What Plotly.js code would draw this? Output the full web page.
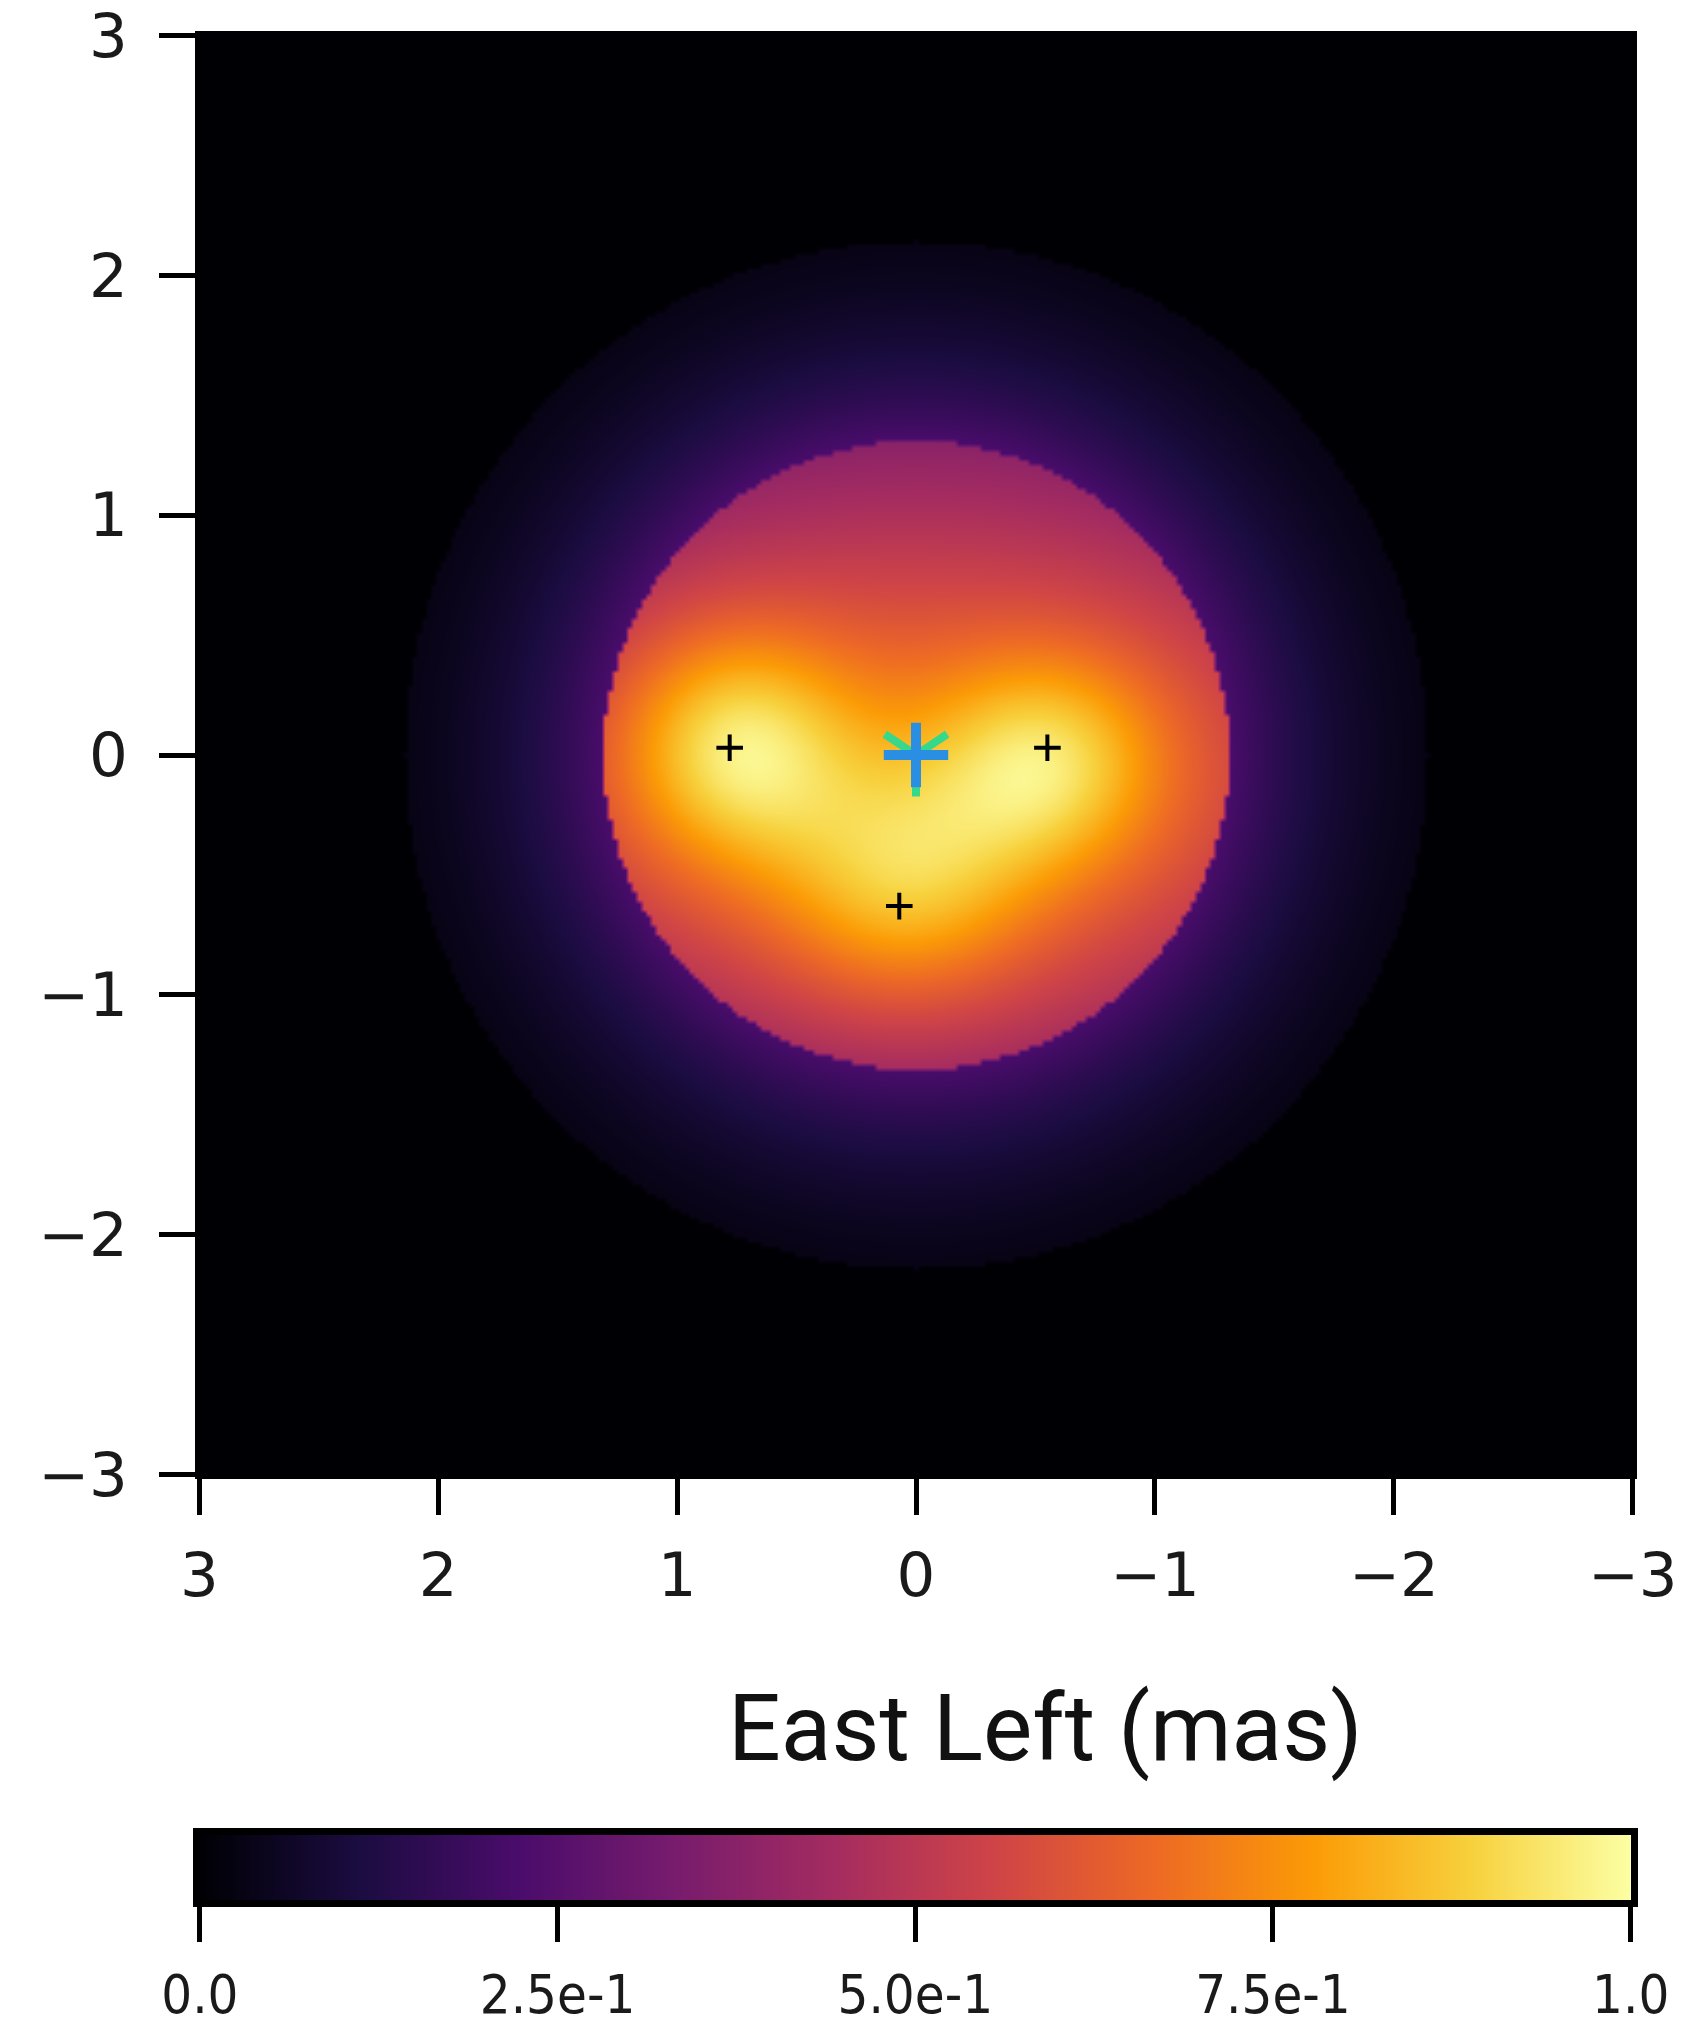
<!DOCTYPE html>
<html>
<head>
<meta charset="utf-8">
<script src="https://cdn.plot.ly/plotly-3.0.1.min.js"></script>
<style>
  html, body { margin: 0; padding: 0; background: #ffffff; }
  #chart { width: 1687px; height: 2034px; }
</style>
</head>
<body>
<div id="chart"></div>
<script>
// ---- axis and colour-bar ticks ----
const axisTicks = [-3, -2, -1, 0, 1, 2, 3];
const axisTickText = ['\u22123', '\u22122', '\u22121', '0', '1', '2', '3'];
const cbarTicks = [0, 0.25, 0.5, 0.75, 1.0];
const cbarTickText = ['0.0', '2.5e-1', '5.0e-1', '7.5e-1', '1.0'];

// ---- fitted component positions (mas) ----
const crossX = [0.78, -0.55, 0.07];
const crossY = [0.03, 0.03, -0.63];
const centreX = [0.0];
const centreY = [0.0];

// ---- stellar disk (uniform disk with linear limb darkening) ----
const diskRadius = 1.31;
const diskCentre = 0.26;
const limbDarkening = 0.10;

// ---- circumstellar envelope (truncated Gaussian) ----
const envelopeRadius = 2.14;
const envelopePeak = 0.73;
const envelopeSigma = 0.85;

// ---- surface brightness features on the disk (elliptical Gaussians) ----
const featX   = [0.75, -0.55,  0.05,  0.00];
const featY   = [0.03, -0.03, -0.52, -0.10];
const featSx  = [0.33,  0.33,  0.38,  1.80];
const featSy  = [0.33,  0.31,  0.36,  0.95];
const featAmp = [0.32,  0.28,  0.25,  0.42];

// ---- inferno colour map ----
const infernoColors = ['#000004', '#1b0c41', '#4a0c6b', '#781c6d', '#a52c60',
                       '#cf4446', '#ed6925', '#fb9b06', '#f7d13d', '#fcffa4'];

// image grid (mas)
const gridStep = 0.02;
const gridN = 301;
const grid = [];
for (let i = 0; i < gridN; i++) grid.push(+(-3 + i * gridStep).toFixed(3));

function brightness(x, y) {
  const r = Math.hypot(x, y);
  if (r > envelopeRadius) return 0;
  if (r > diskRadius) {
    return envelopePeak * Math.exp(-(r * r) / (2 * envelopeSigma * envelopeSigma));
  }
  const mu = Math.sqrt(1 - (r / diskRadius) ** 2);
  let v = diskCentre * (1 - limbDarkening * (1 - mu));
  for (let k = 0; k < featX.length; k++) {
    const dx = x - featX[k], dy = y - featY[k];
    v += featAmp[k] * Math.exp(-(dx * dx) / (2 * featSx[k] ** 2) - (dy * dy) / (2 * featSy[k] ** 2));
  }
  return Math.max(0, Math.min(v, 1));
}

const z = grid.map(y => grid.map(x => brightness(x, y)));
const colorscale = infernoColors.map((c, i) => [i / (infernoColors.length - 1), c]);

// colour-bar strip samples
const cbarSamples = [];
for (let i = 0; i <= 100; i++) cbarSamples.push(i / 100);

const tickFont = { family: 'DejaVu Sans', size: 61, color: '#1a1a1a' };
const cbarFont = { family: "'DejaVu Sans Condensed', 'DejaVu Sans'", size: 54, color: '#1a1a1a' };

const traces = [
  {
    type: 'heatmap', x: grid, y: grid, z: z,
    zmin: 0, zmax: 1, zsmooth: 'best', colorscale: colorscale,
    showscale: false, hoverinfo: 'skip'
  },
  {
    type: 'scatter', mode: 'markers', x: crossX, y: crossY, hoverinfo: 'skip',
    marker: { symbol: 'cross-thin', size: 19, color: '#000000', line: { width: 4, color: '#000000' } }
  },
  {
    type: 'scatter', mode: 'markers', x: centreX, y: centreY, hoverinfo: 'skip',
    marker: { symbol: 'y-down', size: 52, color: '#36d98b', line: { width: 8, color: '#36d98b' } }
  },
  {
    type: 'scatter', mode: 'markers', x: centreX, y: centreY, hoverinfo: 'skip',
    marker: { symbol: 'cross-thin', size: 46, color: '#2a8fe3', line: { width: 10, color: '#2a8fe3' } }
  },
  {
    // colour bar drawn as a strip of the colour scale
    type: 'heatmap', x: cbarSamples, y: [0, 1], z: [cbarSamples, cbarSamples],
    xaxis: 'x2', yaxis: 'y2',
    zmin: 0, zmax: 1, zsmooth: 'best', colorscale: colorscale,
    showscale: false, hoverinfo: 'skip'
  }
];

const axisCommon = {
  tickmode: 'array', tickvals: axisTicks, ticktext: axisTickText,
  ticks: 'outside', ticklen: 36, tickwidth: 5, tickcolor: '#000000',
  showgrid: false, zeroline: false,
  showline: true, mirror: true, linecolor: '#000000', linewidth: 2,
  tickfont: tickFont, ticklabeloverflow: 'allow', fixedrange: true
};

const layout = {
  width: 1687, height: 2034,
  margin: { l: 197, r: 52, t: 33, b: 127, pad: 0 },
  paper_bgcolor: '#ffffff', plot_bgcolor: '#ffffff',
  showlegend: false,
  xaxis: Object.assign({}, axisCommon, {
    range: [3.01, -3.01], autorange: false, anchor: 'y', domain: [0, 1],
    ticklabelstandoff: 8
  }),
  yaxis: Object.assign({}, axisCommon, {
    range: [-3.01, 3.01], autorange: false, anchor: 'x',
    domain: [(1907 - 1477) / 1874, 1],
    ticklabelstandoff: 19
  }),
  xaxis2: {
    anchor: 'y2', domain: [0.002, 0.997], range: [0, 1], autorange: false,
    tickmode: 'array', tickvals: cbarTicks, ticktext: cbarTickText,
    ticks: 'outside', ticklen: 35, tickwidth: 5, tickcolor: '#000000',
    showline: true, mirror: true, linecolor: '#000000', linewidth: 7,
    showgrid: false, zeroline: false, tickfont: cbarFont,
    ticklabelstandoff: 6, ticklabeloverflow: 'allow', fixedrange: true
  },
  yaxis2: {
    anchor: 'x2', domain: [(1907 - 1900) / 1874, (1907 - 1835) / 1874],
    range: [0, 1], autorange: false,
    showticklabels: false, ticks: '',
    showline: true, mirror: true, linecolor: '#000000', linewidth: 7,
    showgrid: false, zeroline: false, fixedrange: true
  },
  annotations: [{
    text: 'East Left (mas)', showarrow: false,
    xref: 'paper', yref: 'paper', x: 0.5904, y: (1907 - 1728) / 1874,
    xanchor: 'center', yanchor: 'middle',
    font: { family: 'Roboto', size: 93, weight: 400, color: '#111111' }
  }]
};

Plotly.newPlot('chart', traces, layout, { staticPlot: true, displayModeBar: false });
</script>
</body>
</html>
